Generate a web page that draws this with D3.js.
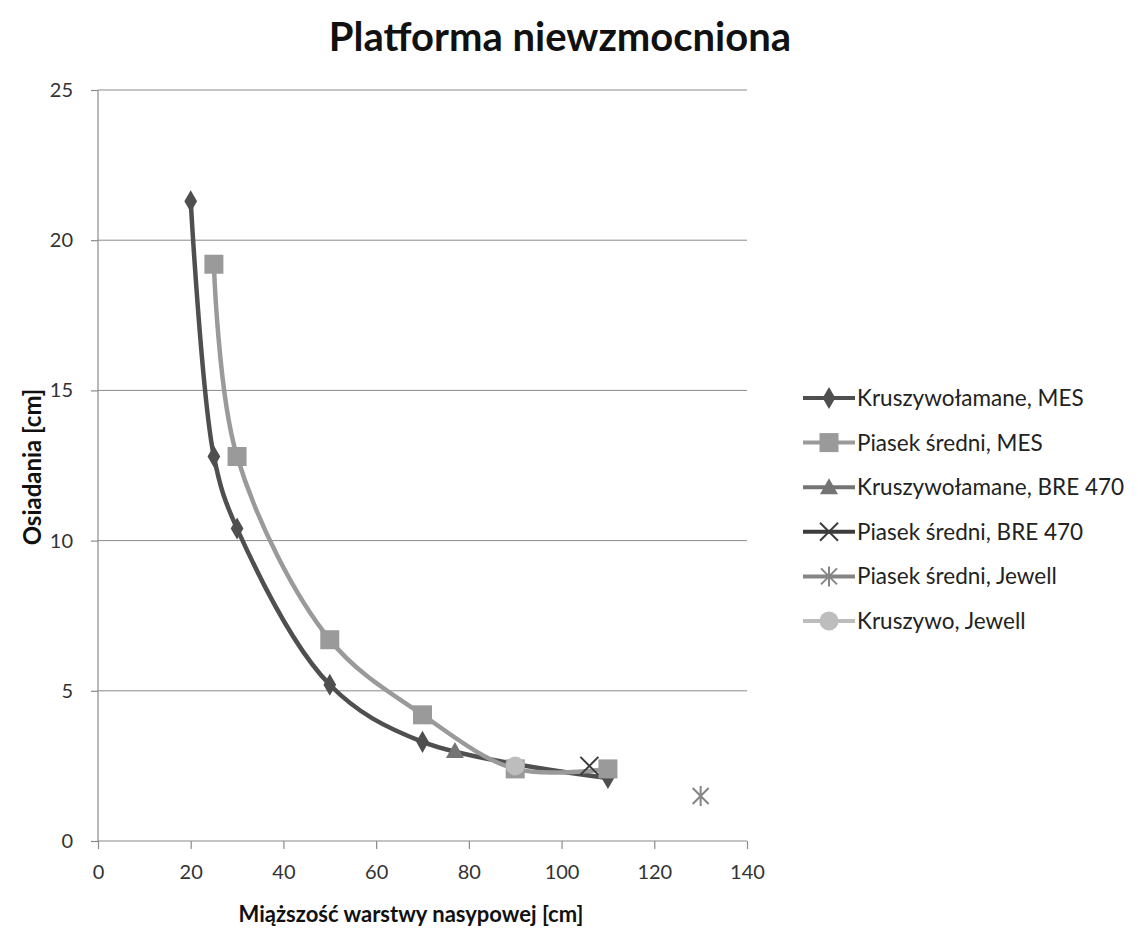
<!DOCTYPE html>
<html><head><meta charset="utf-8">
<script src="https://cdn.jsdelivr.net/npm/d3@7"></script>
<style>body{margin:0;background:#fff}svg{display:block}text{font-family:Lato,"Open Sans",sans-serif}</style>
</head><body><svg id="c" width="1138" height="928"></svg>
<script>
const xTicks=[0,20,40,60,80,100,120,140];
const yTicks=[0,5,10,15,20,25];
const krMesX=[20,25,30,50,70,110];
const krMesY=[21.3,12.8,10.4,5.2,3.3,2.1];
const psMesX=[25,30,50,70,90,110];
const psMesY=[19.2,12.8,6.7,4.2,2.4,2.4];
const krBreX=[77];const krBreY=[3.0];
const psBreX=[106];const psBreY=[2.5];
const psJewX=[130];const psJewY=[1.5];
const krJewX=[90];const krJewY=[2.5];
const names=["Kruszywołamane, MES","Piasek średni, MES","Kruszywołamane, BRE 470","Piasek średni, BRE 470","Piasek średni, Jewell","Kruszywo, Jewell"];
const series=[
 {n:names[0],xs:krMesX,ys:krMesY,c:"#4f4f4f",m:"diamond"},
 {n:names[1],xs:psMesX,ys:psMesY,c:"#9a9a9a",m:"square"},
 {n:names[2],xs:krBreX,ys:krBreY,c:"#747474",m:"triangle"},
 {n:names[3],xs:psBreX,ys:psBreY,c:"#3c3c3c",m:"x"},
 {n:names[4],xs:psJewX,ys:psJewY,c:"#858585",m:"star"},
 {n:names[5],xs:krJewX,ys:krJewY,c:"#bdbdbd",m:"circle"}
];
const svg=d3.select("#c");
const x=d3.scaleLinear().domain([0,140]).range([98,747]);
const y=d3.scaleLinear().domain([0,25]).range([841,90]);
// grid
svg.append("g").selectAll("line").data(yTicks.filter(d=>d>0)).join("line")
 .attr("x1",98).attr("x2",747).attr("y1",d=>y(d)).attr("y2",d=>y(d)).attr("stroke","#8a8a8a").attr("stroke-width",1);
const ya=svg.append("g").attr("transform","translate(98,0)").call(d3.axisLeft(y).tickValues(yTicks).tickSize(7).tickPadding(18).tickFormat(d3.format("d")));
const xa=svg.append("g").attr("transform","translate(0,841)").call(d3.axisBottom(x).tickValues(xTicks).tickSize(8).tickPadding(16).tickFormat(d3.format("d")));
[ya,xa].forEach(a=>{a.selectAll("path,line").attr("stroke","#8a8a8a").attr("stroke-width",1.2);
 a.selectAll("text").attr("font-size",20).attr("fill","#333");});
ya.select(".domain").attr("d","M0,90V841");
xa.select(".domain").attr("d","M98,0H747");
// title
svg.append("text").attr("x",560).attr("y",51).attr("text-anchor","middle").attr("font-size",40).attr("font-weight","bold").attr("fill","#111").text("Platforma niewzmocniona");
svg.append("text").attr("x",411).attr("y",922).attr("text-anchor","middle").attr("font-size",22).attr("font-weight","bold").attr("fill","#111").text("Miąższość warstwy nasypowej [cm]");
svg.append("text").attr("transform","translate(41,467) rotate(-90)").attr("text-anchor","middle").attr("font-size",24).attr("font-weight","bold").attr("fill","#111").text("Osiadania [cm]");
function marker(g,m,c){
 if(m==="diamond")g.append("path").attr("d",d3.symbol(d3.symbolDiamond,140)()).attr("fill",c);
 if(m==="square")g.append("rect").attr("x",-9.5).attr("y",-9.5).attr("width",19).attr("height",19).attr("fill",c);
 if(m==="triangle")g.append("path").attr("d","M0,-9L9,7L-9,7Z").attr("fill",c);
 if(m==="circle")g.append("circle").attr("r",9.5).attr("fill",c);
 if(m==="x")g.append("path").attr("d","M-9,-9L9,9M-9,9L9,-9").attr("stroke",c).attr("stroke-width",2);
 if(m==="star")g.append("path").attr("d","M-8,-8L8,8M-8,8L8,-8M0,-10V10").attr("stroke",c).attr("stroke-width",2);
}
const line=d3.line().curve(d3.curveCatmullRom.alpha(0.5)).x(d=>x(d[0])).y(d=>y(d[1]));
series.forEach(s=>{
 const pts=s.xs.map((v,i)=>[v,s.ys[i]]);
 if(pts.length>1)svg.append("path").attr("d",line(pts)).attr("fill","none").attr("stroke",s.c).attr("stroke-width",4.5).attr("stroke-linejoin","round");
});
series.forEach(s=>{
 s.xs.forEach((v,i)=>{const g=svg.append("g").attr("transform",`translate(${x(v)},${y(s.ys[i])})`);marker(g,s.m,s.c);});
});
// legend
series.forEach((s,i)=>{
 const ly=398+i*44.6;
 svg.append("line").attr("x1",803).attr("x2",855).attr("y1",ly).attr("y2",ly).attr("stroke",s.c).attr("stroke-width",4);
 const g=svg.append("g").attr("transform",`translate(829,${ly})`);marker(g,s.m,s.c);
 svg.append("text").attr("x",857).attr("y",ly+8).attr("font-size",22.5).attr("fill","#222").text(s.n);
});
</script></body></html>
